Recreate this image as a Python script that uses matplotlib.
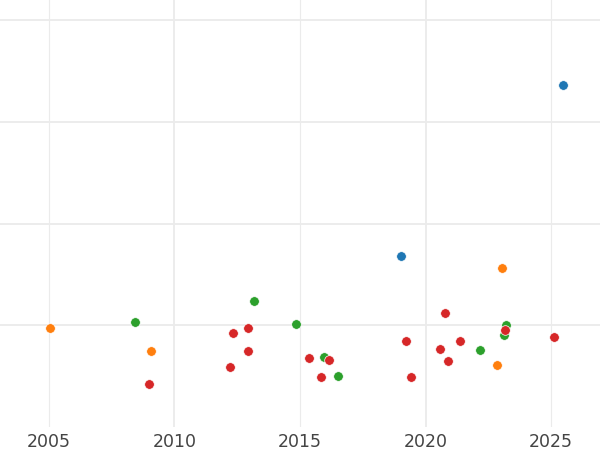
import matplotlib
matplotlib.use("Agg")
import matplotlib.pyplot as plt
from matplotlib.ticker import MultipleLocator, NullLocator, FixedLocator, FormatStrFormatter, NullFormatter

# years and values (log-scaled y, tick labels hidden in the original)
blue_x = [2019.02, 2025.49]
blue_y = [47.6, 2281]

orange_x = [2005.04, 2009.05, 2023.06, 2022.84]
orange_y = [9.46, 5.55, 36.3, 4.04]

green_x = [2008.43, 2013.17, 2014.84, 2015.96, 2016.53, 2022.17, 2023.22, 2023.12]
green_y = [10.8, 17.3, 10.4, 4.84, 3.19, 5.67, 10.06, 8.08]

red_x = [2008.98, 2012.34, 2012.93, 2012.93, 2012.20, 2015.36, 2016.17, 2015.84,
         2019.21, 2019.42, 2020.79, 2020.57, 2021.36, 2020.90, 2023.17, 2025.12]
red_y = [2.63, 8.39, 9.33, 5.55, 3.91, 4.77, 4.55, 3.12,
         7.00, 3.12, 13.1, 5.88, 6.95, 4.48, 8.92, 7.61]

y_grid = [10, 100, 1000, 10000]

fig = plt.figure(figsize=(6, 4.5), dpi=100)
ax = fig.add_axes([0, 23 / 450, 1, 427 / 450])

for xs, ys, c in [(blue_x, blue_y, "tab:blue"), (orange_x, orange_y, "tab:orange"),
                  (green_x, green_y, "tab:green"), (red_x, red_y, "tab:red")]:
    ax.scatter(xs, ys, s=48, color=c, edgecolor="white", linewidth=0.5, zorder=3)

ax.set_yscale("log")
ax.set_ylim(1, 10 ** 4.197)
ax.set_xlim(2003.05, 2026.95)

ax.xaxis.set_major_locator(MultipleLocator(10))
ax.xaxis.set_minor_locator(MultipleLocator(5))
ax.xaxis.set_major_formatter(FormatStrFormatter("%d"))
ax.xaxis.set_minor_formatter(FormatStrFormatter("%d"))
ax.yaxis.set_major_locator(FixedLocator(y_grid))
ax.yaxis.set_minor_locator(NullLocator())
ax.yaxis.set_major_formatter(NullFormatter())

ax.grid(True, which="major", color="#ebebeb", linewidth=1.3)
ax.grid(True, which="minor", axis="x", color="#ebebeb", linewidth=0.8)
ax.set_axisbelow(True)

ax.tick_params(which="both", length=0, labelsize=12.5, labelcolor="#444444", pad=4)
ax.tick_params(axis="y", left=False, labelleft=False)
for s in ax.spines.values():
    s.set_visible(False)

fig.savefig("out.png", dpi=100)
